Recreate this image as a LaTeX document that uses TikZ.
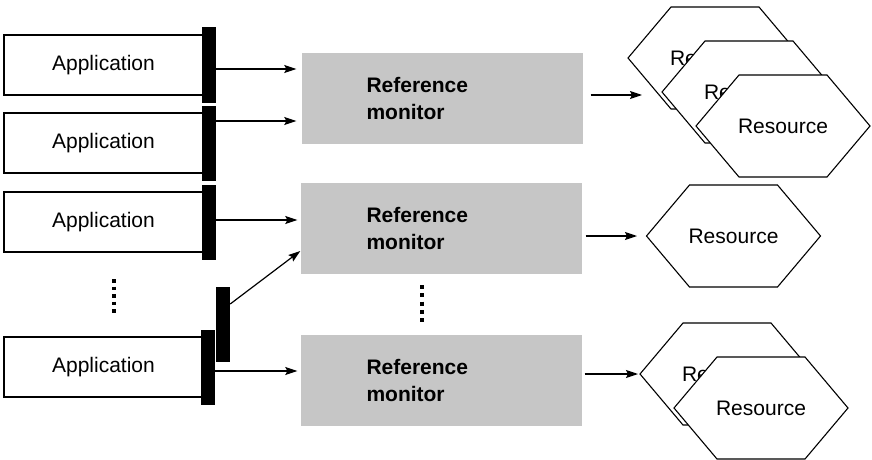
\documentclass[tikz,border=0pt]{standalone}
\usepackage{fontspec}
\setmainfont{Liberation Sans}
\usetikzlibrary{arrows.meta}

\tikzset{
  app/.style={draw, line width=1.3pt, minimum width=199pt, minimum height=60pt,
    inner sep=0pt, font=\fontsize{21}{25}\selectfont},
  guard/.style={fill=black, minimum width=14pt, minimum height=75pt, inner sep=0pt},
  monitor/.style={fill=gray!45, minimum width=281pt, minimum height=91pt, inner sep=0pt},
  montext/.style={anchor=west, align=left, inner sep=0pt,
    font=\fontsize{21}{27}\selectfont\bfseries},
  arr/.style={line width=1.2pt, -{Stealth[length=12pt,width=8pt,inset=2pt]}},
  hexline/.style={draw, fill=white, line width=1.1pt, line join=miter},
  restext/.style={inner sep=0pt, font=\fontsize{21}{25}\selectfont},
  dotcol/.style={line width=3.5pt, dash pattern=on 3.5pt off 4pt},
}

% hexagonal resource: name, centre, label
\newcommand\reshex[3]{%
  \draw[hexline, shift={(#2)}] (-87,0) -- (-44,-51) -- (44,-51) -- (87,0)
    -- (44,51) -- (-44,51) -- cycle;
  \node[restext] (#1) at (#2) {#3};}

\begin{document}
\begin{tikzpicture}[x=1pt, y=-1pt]
  \fill[white] (0,0) rectangle (872,460);
  \useasboundingbox (0,0) rectangle (872,460);

  % applications
  \node[app] (app1) at (103.5,65)  {Application};
  \node[app] (app2) at (103.5,143) {Application};
  \node[app] (app3) at (103.5,222) {Application};
  \node[app] (app4) at (103.5,367) {Application};

  % guards attached to each application
  \node[guard] (g1) at (209,65)    {};
  \node[guard] (g2) at (209,143)   {};
  \node[guard] (g3) at (209,222)   {};
  \node[guard] (g4) at (208,367)   {};
  \node[guard] (g5) at (223,324.5) {};

  % reference monitors
  \node[monitor] (m1) at (442,98.5)  {};
  \node[monitor] (m2) at (441,228)   {};
  \node[monitor] (m3) at (441,380.5) {};
  \node[montext] (t1) at ([xshift=65pt]m1.west) {Reference\\monitor};
  \node[montext] (t2) at ([xshift=66pt]m2.west) {Reference\\monitor};
  \node[montext] (t3) at ([xshift=66pt]m3.west) {Reference\\monitor};

  % elision marks
  \draw[dotcol] (114,279) -- (114,315);
  \draw[dotcol, dash pattern=on 4pt off 4.3pt] (422,285) -- (422,323);

  % resources
  \reshex{r1}{715,58}{Resource}
  \reshex{r2}{749,92}{Resource}
  \reshex{r3}{783,126}{Resource}
  \reshex{r4}{733.5,236}{Resource}
  \reshex{r5}{727,374}{Resource}
  \reshex{r6}{761,408}{Resource}

  % request levels
  \coordinate (y1) at (0,69);
  \coordinate (y2) at (0,121);
  \coordinate (y3) at (0,220);
  \coordinate (y4) at (0,371);
  \coordinate (y5s) at (0,304);
  \coordinate (y5e) at (0,251);

  \draw[arr, shorten >=5pt] (g1.east |- y1) -- (m1.west |- y1);
  \draw[arr, shorten >=5pt] (g2.east |- y2) -- (m1.west |- y2);
  \draw[arr, shorten >=3pt] (g3.east |- y3) -- (m2.west |- y3);
  \draw[arr] (g5.east |- y5s) -- (m2.west |- y5e);
  \draw[arr, shorten >=3pt] (g4.east |- y4) -- (m3.west |- y4);

  % monitor to resource
  \coordinate (e1) at (642,95);
  \coordinate (e2) at (637,236);
  \coordinate (e3) at (638,374);
  \draw[arr, shorten <=8pt] (m1.east |- e1) -- (e1);
  \draw[arr, shorten <=4pt] (m2.east |- e2) -- (e2);
  \draw[arr, shorten <=3pt] (m3.east |- e3) -- (e3);
\end{tikzpicture}
\end{document}
